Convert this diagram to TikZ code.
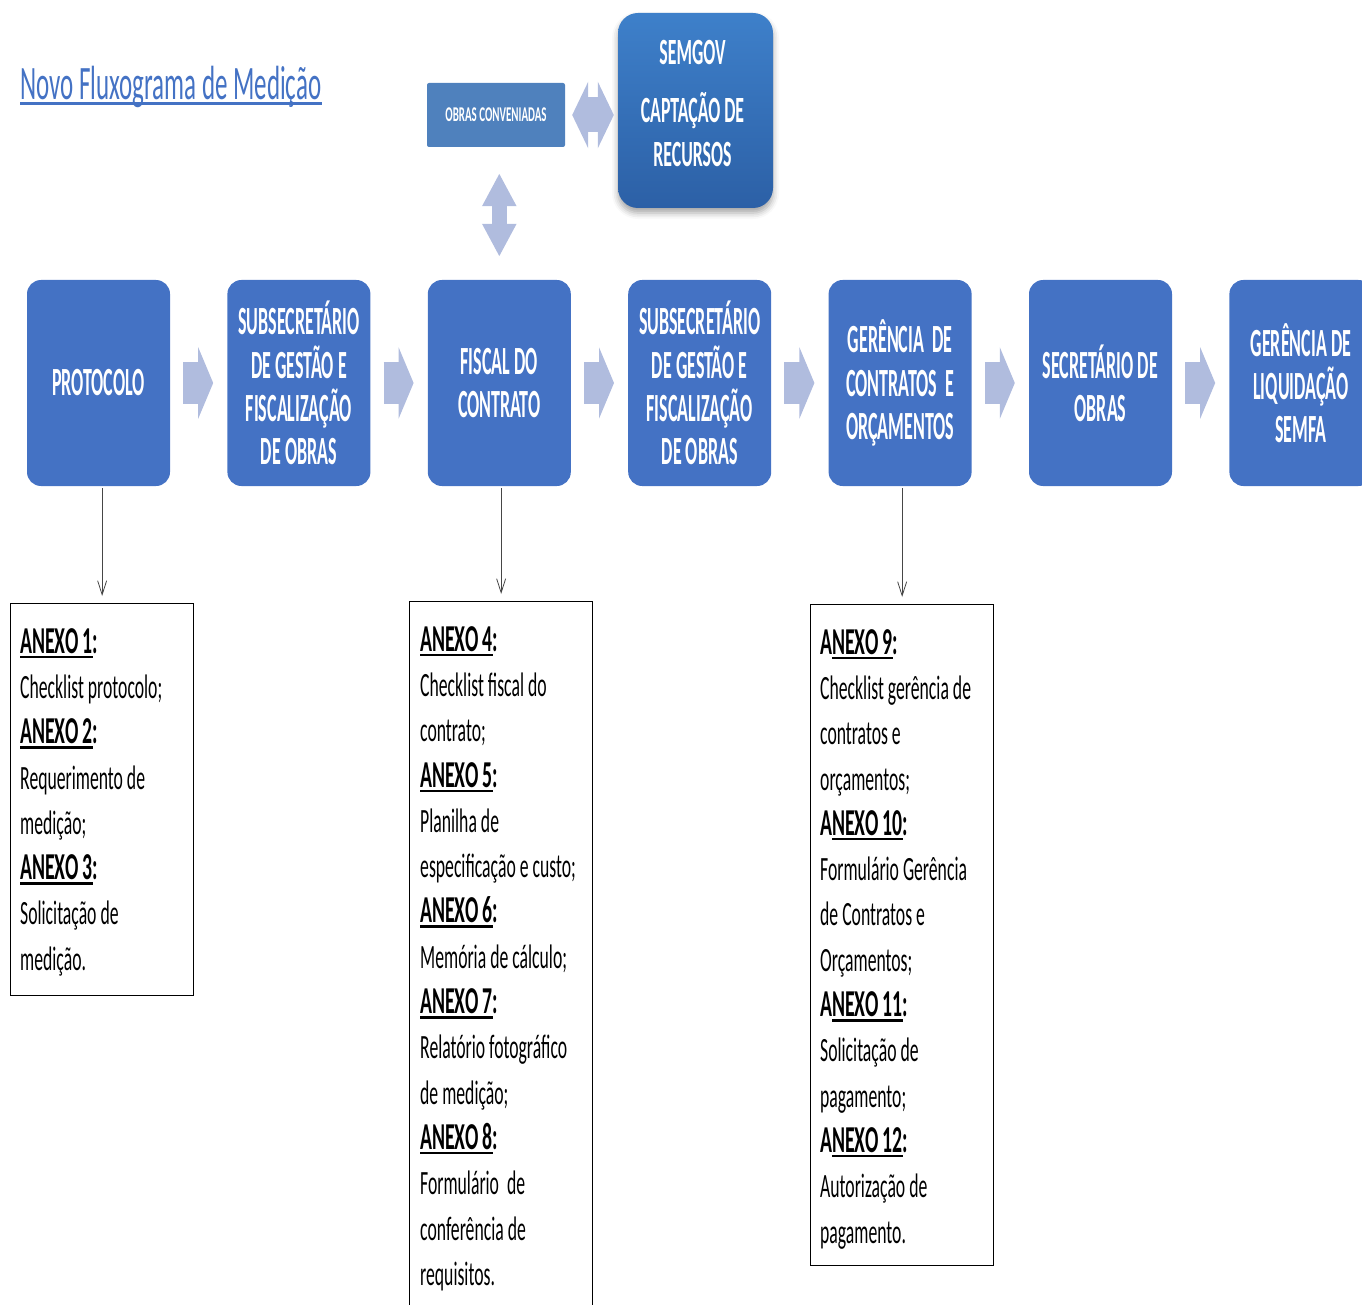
\documentclass[tikz,border=0pt]{standalone}
\usepackage{fontspec}
\setmainfont{Carlito}[FakeStretch=0.52]
\newfontfamily\stagefont{Carlito}[FakeStretch=0.45]
\newfontfamily\semgovfont{Carlito}[FakeStretch=0.48]
\usetikzlibrary{arrows.meta,positioning,calc,shadows.blur}

\definecolor{stageblue}{RGB}{68,114,196}
\definecolor{obrasblue}{RGB}{79,129,189}
\definecolor{arrowblue}{RGB}{176,188,222}
\definecolor{sgtop}{RGB}{62,128,202}
\definecolor{sgbot}{RGB}{44,96,166}
\definecolor{notegrey}{RGB}{70,70,70}

\newsavebox{\ulbox}
\newcommand{\ulin}[2][2.5pt]{\sbox{\ulbox}{#2}\rlap{\rule[-5pt]{\wd\ulbox}{#1}}\usebox{\ulbox}}
\newcommand{\anx}[1]{{\fontsize{38}{45}\selectfont\bfseries\ulin{ANEXO #1}:}}
\newcommand{\anxb}[1]{{\fontsize{38}{45}\selectfont\bfseries A\ulin{NEXO #1}:}}

\begin{document}
\begin{tikzpicture}[x=1pt,y=-1pt]
\tikzset{
  stage/.style={rectangle,rounded corners=14pt,fill=stageblue,text=white,
    minimum width=143pt,minimum height=206pt,inner sep=0pt,align=center,
    font=\stagefont\fontsize{40}{43.3}\selectfont\bfseries},
  flowarrow/.style={draw=arrowblue,line width=42pt,
    -{Triangle[length=15pt,width=71pt]},shorten <=13pt,shorten >=14pt},
  notebox/.style={draw,line width=1.3pt,minimum width=183pt,inner sep=0pt,anchor=north west},
  notetext/.style={anchor=north west,inner sep=0pt,align=left,
    font=\fontsize{34}{45.3}\selectfont},
  notearrow/.style={draw=notegrey,line width=0.8pt,
    -{Straight Barb[length=14pt,width=9pt]},shorten <=2pt,shorten >=7pt}
}
\path[use as bounding box] (0,0) rectangle (1362,1305);
\clip (0,0) rectangle (1362,1305);

% title
\node[anchor=base west,inner sep=0pt,text=stageblue,font=\fontsize{48}{58}\selectfont]
  (title) at (20,100) {\ulin[2.5pt]{Novo Fluxograma de Medição}};

% top part
\node[rectangle,rounded corners=2pt,fill=obrasblue,text=white,minimum width=138pt,
  minimum height=64pt,font=\fontsize{21}{24}\selectfont\bfseries] (obras) at (496,115) {OBRAS CONVENIADAS};
\node[rectangle,rounded corners=20pt,top color=sgtop,bottom color=sgbot,
  minimum width=155pt,minimum height=195pt,
  blur shadow={shadow xshift=0pt,shadow yshift=-5pt,shadow blur radius=6pt,shadow opacity=35}]
  (semgov) at (695.5,110.5) {};
\node[text=white,align=center,font=\semgovfont\fontsize{37}{44}\selectfont\bfseries]
  (semgovtxt) at ($(semgov)+(-3,-7)$) {SEMGOV\\[14pt]CAPTAÇÃO DE\\RECURSOS};

% main row
\node[stage] (p1) at (98.5,383) {PROTOCOLO};
\node[stage,right=57pt of p1] (p2) {SUBSECRETÁRIO\\DE GESTÃO E\\FISCALIZAÇÃO\\DE OBRAS};
\node[stage,right=57pt of p2] (p3) {FISCAL DO\\CONTRATO};
\node[stage,right=57pt of p3] (p4) {SUBSECRETÁRIO\\DE GESTÃO E\\FISCALIZAÇÃO\\DE OBRAS};
\node[stage,right=57pt of p4] (p5) {GERÊNCIA~~DE\\CONTRATOS~~E\\ORÇAMENTOS};
\node[stage,right=57pt of p5] (p6) {SECRETÁRIO DE\\OBRAS};
\node[stage,right=57pt of p6] (p7) {GERÊNCIA DE\\LIQUIDAÇÃO\\SEMFA};

\foreach \a/\b in {p1/p2,p2/p3,p3/p4,p4/p5,p5/p6,p6/p7}
  \draw[flowarrow] (\a.east) -- (\b.west);

% double arrows
\draw[draw=arrowblue,line width=35pt,
  {Triangle[length=16pt,width=66pt]}-{Triangle[length=16pt,width=66pt]},
  shorten <=7pt,shorten >=4pt] (obras.east) -- (obras.east -| semgov.west);
\draw[draw=arrowblue,line width=15pt,
  {Triangle[length=33pt,width=32pt]}-{Triangle[length=33pt,width=32pt]},
  shorten <=26pt,shorten >=23pt] (obras.south -| p3.north) -- (p3.north);

% annex boxes
\node[notebox,minimum height=392pt] (n1) at (10,603) {};
\node[notebox,minimum height=740pt] (n2) at (409,601) {};
\node[notebox,minimum height=661pt] (n3) at (810,604) {};

\node[notetext] (t1) at ($(n1.north west)+(10,25)$)
  {\anx{1}\\Checklist protocolo;\\\anx{2}\\Requerimento de\\medição;\\\anx{3}\\Solicitação de\\medição.};
\node[notetext] (t2) at ($(n2.north west)+(11,25)$)
  {\anx{4}\\Checklist fiscal do\\contrato;\\\anx{5}\\Planilha de\\especificação e custo;\\\anx{6}\\Memória de cálculo;\\\anx{7}\\Relatório fotográfico\\de medição;\\\anx{8}\\Formulário~~de\\conferência de\\requisitos.};
\node[notetext] (t3) at ($(n3.north west)+(10,25)$)
  {\anxb{9}\\Checklist gerência de\\contratos e\\orçamentos;\\\anxb{10}\\Formulário Gerência\\de Contratos e\\Orçamentos;\\\anxb{11}\\Solicitação de\\pagamento;\\\anxb{12}\\Autorização de\\pagamento.};

\draw[notearrow] (p1.south -| n1.north) -- (n1.north);
\draw[notearrow] (p3.south -| n2.north) -- (n2.north);
\draw[notearrow] (p5.south -| n3.north) -- (n3.north);
\end{tikzpicture}
\end{document}
